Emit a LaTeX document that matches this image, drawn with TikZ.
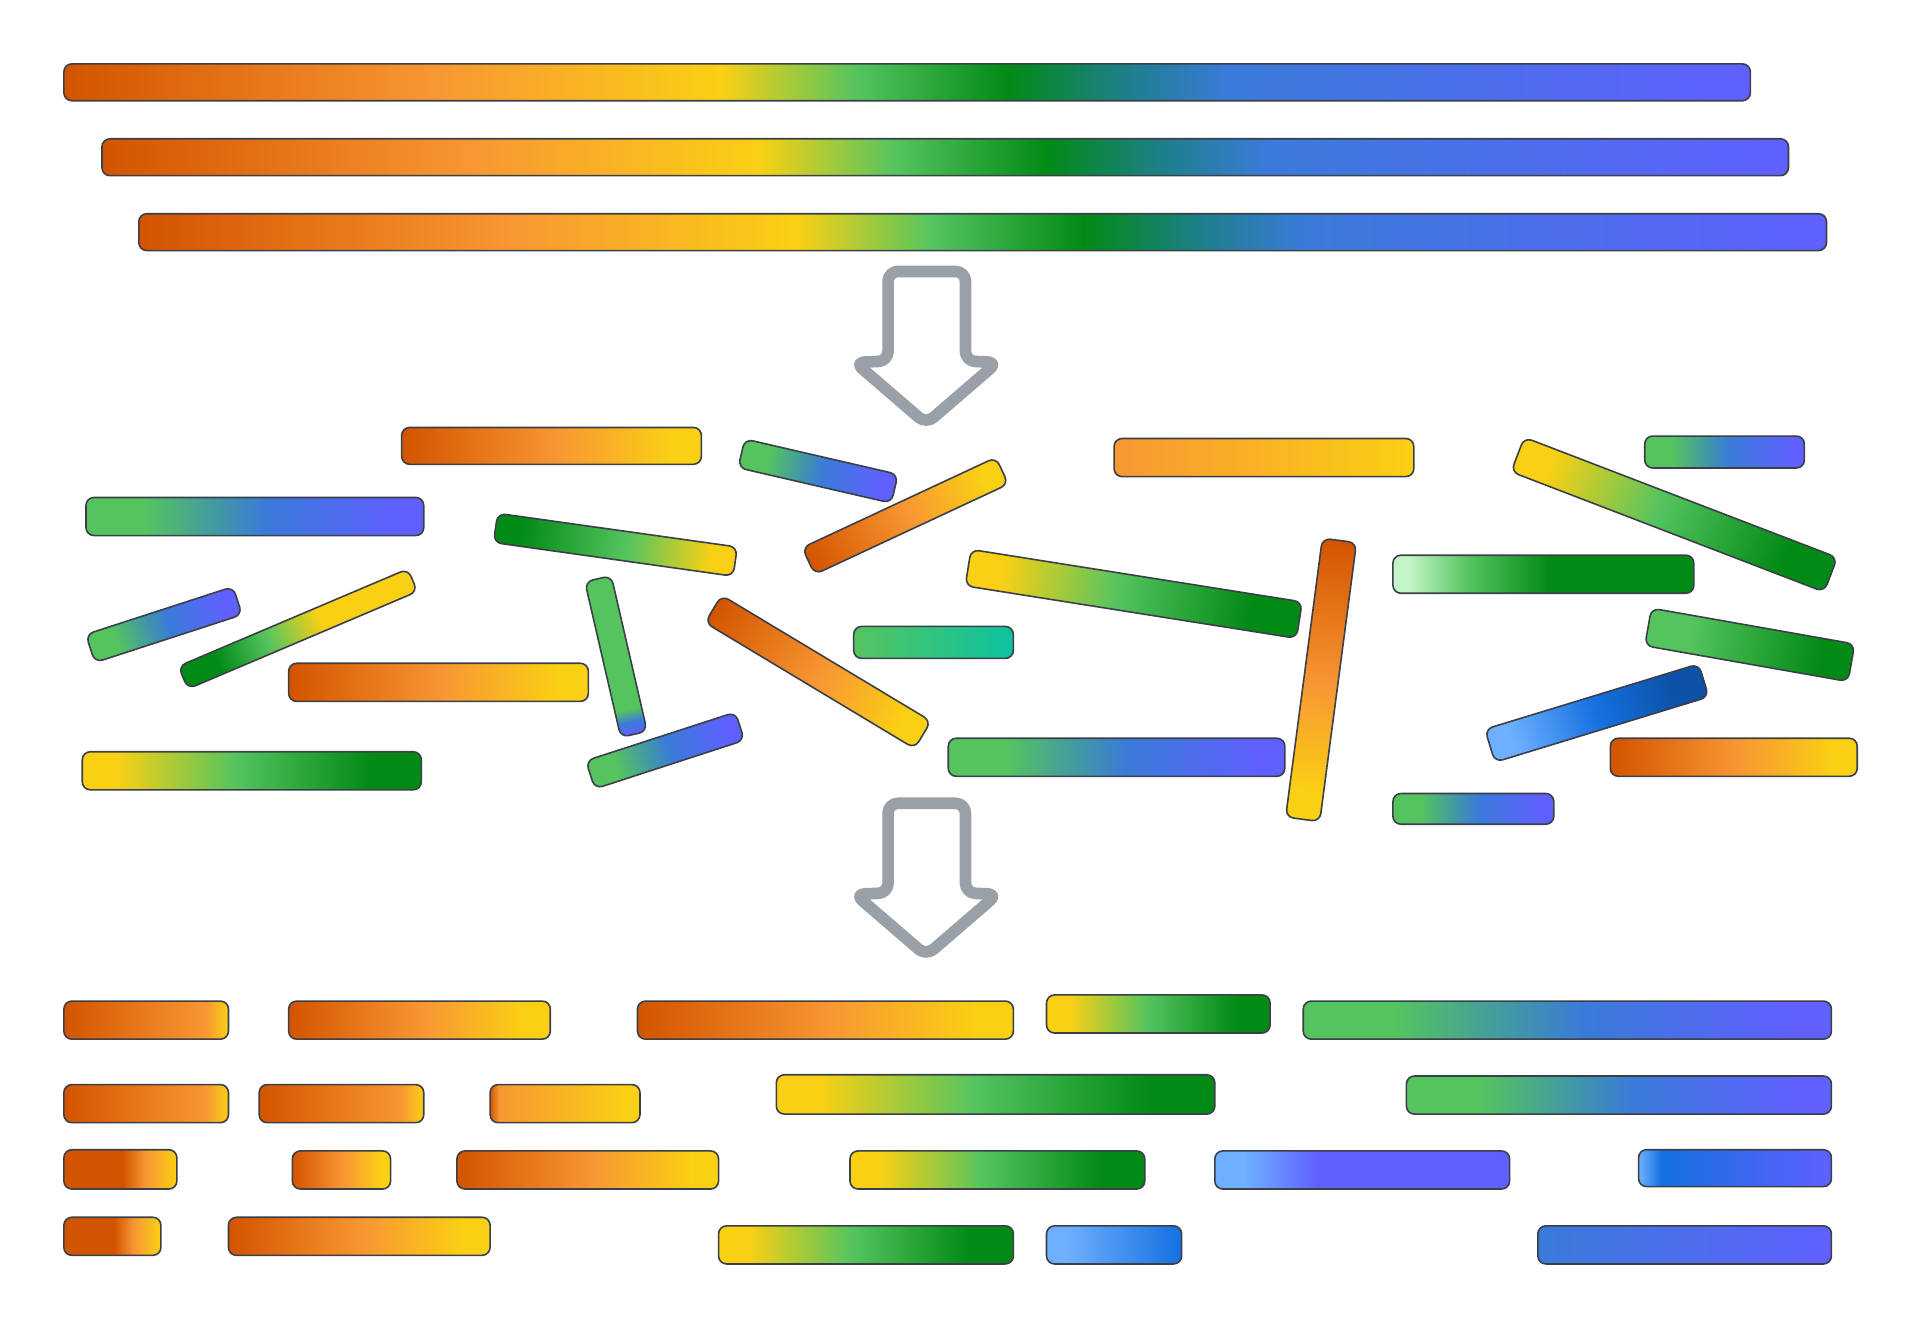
\documentclass[tikz,border=0pt]{standalone}
\usepackage{tikz}
\definecolor{dorg}{HTML}{D35400}
\definecolor{lorg}{HTML}{F89733}
\definecolor{ylw}{HTML}{FAD014}
\definecolor{lgrn}{HTML}{55C45F}
\definecolor{dgrn}{HTML}{028A16}
\definecolor{teal}{HTML}{1E7F8C}
\definecolor{tealm}{HTML}{4297A5}
\definecolor{blu}{HTML}{3A7BD9}
\definecolor{prp}{HTML}{6060FF}
\definecolor{tealg}{HTML}{0BC3A0}
\definecolor{palegrn}{HTML}{C4F5C8}
\definecolor{lblu}{HTML}{6EB0FF}
\definecolor{mblu}{HTML}{1570E0}
\definecolor{dblu}{HTML}{0D52A8}
\definecolor{edge}{HTML}{3B3F47}
\definecolor{arrowgray}{HTML}{9AA0A8}
% gradients along a strand (25bp = left end, 75bp = right end)
\pgfdeclarehorizontalshading{spectrum}{100bp}{color(0bp)=(dorg); color(25bp)=(dorg); color(36bp)=(lorg); color(44.5bp)=(ylw); color(48.5bp)=(lgrn); color(53bp)=(dgrn); color(56.5bp)=(teal); color(59.5bp)=(blu); color(75bp)=(prp); color(100bp)=(prp)}
\pgfdeclarehorizontalshading{oy}{100bp}{color(0bp)=(dorg); color(25bp)=(dorg); color(51bp)=(lorg); color(70bp)=(ylw); color(100bp)=(ylw)}
\pgfdeclarehorizontalshading{oyshort}{100bp}{color(0bp)=(dorg); color(25bp)=(dorg); color(68bp)=(lorg); color(75bp)=(ylw); color(100bp)=(ylw)}
\pgfdeclarehorizontalshading{oyhalf}{100bp}{color(0bp)=(dorg); color(51bp)=(dorg); color(61bp)=(lorg); color(75bp)=(ylw); color(100bp)=(ylw)}
\pgfdeclarehorizontalshading{oylate}{100bp}{color(0bp)=(dorg); color(25bp)=(dorg); color(28bp)=(lorg); color(70bp)=(ylw); color(100bp)=(ylw)}
\pgfdeclarehorizontalshading{ly}{100bp}{color(0bp)=(lorg); color(25bp)=(lorg); color(75bp)=(ylw); color(100bp)=(ylw)}
\pgfdeclarehorizontalshading{yg}{100bp}{color(0bp)=(ylw); color(30bp)=(ylw); color(47.5bp)=(lgrn); color(67.5bp)=(dgrn); color(100bp)=(dgrn)}
\pgfdeclarehorizontalshading{gy}{100bp}{color(0bp)=(dgrn); color(30bp)=(dgrn); color(52.5bp)=(lgrn); color(70bp)=(ylw); color(100bp)=(ylw)}
\pgfdeclarehorizontalshading{gyshort}{100bp}{color(0bp)=(dgrn); color(32.5bp)=(dgrn); color(43.5bp)=(lgrn); color(55bp)=(ylw); color(100bp)=(ylw)}
\pgfdeclarehorizontalshading{gb}{100bp}{color(0bp)=(lgrn); color(33.5bp)=(lgrn); color(44.5bp)=(tealm); color(51.5bp)=(blu); color(71bp)=(prp); color(100bp)=(prp)}
\pgfdeclarehorizontalshading{gteal}{100bp}{color(0bp)=(lgrn); color(25bp)=(lgrn); color(75bp)=(tealg); color(100bp)=(tealg)}
\pgfdeclarehorizontalshading{pgdg}{100bp}{color(0bp)=(palegrn); color(27.5bp)=(palegrn); color(37.5bp)=(lgrn); color(51bp)=(dgrn); color(100bp)=(dgrn)}
\pgfdeclarehorizontalshading{gdg}{100bp}{color(0bp)=(lgrn); color(35bp)=(lgrn); color(67.5bp)=(dgrn); color(100bp)=(dgrn)}
\pgfdeclarehorizontalshading{gbend}{100bp}{color(0bp)=(lgrn); color(67bp)=(lgrn); color(71bp)=(blu); color(75bp)=(prp); color(100bp)=(prp)}
\pgfdeclarehorizontalshading{lbdb}{100bp}{color(0bp)=(lblu); color(30bp)=(lblu); color(50bp)=(mblu); color(67.5bp)=(dblu); color(100bp)=(dblu)}
\pgfdeclarehorizontalshading{lbp}{100bp}{color(0bp)=(lblu); color(30bp)=(lblu); color(42.5bp)=(prp); color(100bp)=(prp)}
\pgfdeclarehorizontalshading{lbbp}{100bp}{color(0bp)=(lblu); color(25bp)=(lblu); color(31bp)=(mblu); color(75bp)=(prp); color(100bp)=(prp)}
\pgfdeclarehorizontalshading{lbb}{100bp}{color(0bp)=(lblu); color(32bp)=(lblu); color(75bp)=(mblu); color(100bp)=(mblu)}
\pgfdeclarehorizontalshading{bp}{100bp}{color(0bp)=(blu); color(25bp)=(blu); color(75bp)=(prp); color(100bp)=(prp)}
\tikzset{
  strand/.style={draw=edge, line width=1.3pt, rounded corners=6.5pt},
  fatarrow/.style={draw=arrowgray, line width=9.5pt, rounded corners=8pt, line join=round}
}
\begin{document}
\begin{tikzpicture}[x=1pt,y=-1pt]
  \useasboundingbox (0,0) rectangle (1568,1094);
  % full strands
  \foreach \xa/\ya/\xb/\yb in {52/52/1425/82, 83/113/1456/143, 113/174/1487/204}
    \shade[strand, shading=spectrum] (\xa,\ya) rectangle (\xb,\yb);
  % down arrows
  \foreach \dy in {0,433}
    \draw[fatarrow, shift={(0,\dy)}] (754,221) -- (786,221) -- (786,294) -- (812,295)
      -- (754,345) -- (696,295) -- (723,294) -- (723,221) -- cycle;
  % broken pieces, lying flat
  \foreach \xa/\ya/\xb/\yb/\bsh in {327/348/571/378/oy, 70/405/345/436/gb, 235/540/479/571/oy,
      67/612/343/643/yg, 695/510/825/536/gteal, 907/357/1151/388/ly, 1134/452/1379/483/pgdg,
      1339/355/1469/381/gb, 1311/601/1512/632/oy, 772/601/1046/632/gb, 1134/646/1265/671/gb}
    \shade[strand, shading=\bsh] (\xa,\ya) rectangle (\xb,\yb);
  % broken pieces, tilted
  \foreach \cx/\cy/\blen/\bthk/\bang/\bsh in {133.5/508.5/126/24/18/gb, 242.5/512/203/20/23/gyshort,
      501/443.5/197/24/-8/gy, 501.5/534.5/130/22/-77/gbend, 541.5/611/128/24/18/gb,
      666/383.5/128/24/-13/gb, 737/420/174/24/25/oy, 666/547/199/26/-31/oy,
      923/483.5/273/30/-9/yg, 1075.5/553.5/229/28/-97.5/oy, 1363/419/273/30/-21/yg,
      1424.5/525/168/31/-10/gdg, 1300/580.5/182/28/17/lbdb}
  {
    \begin{scope}[transform canvas={shift={(\cx,\cy)}, rotate=\bang}]
      \shade[strand, shading=\bsh] (-\blen/2,-\bthk/2) rectangle (\blen/2,\bthk/2);
    \end{scope}
  }
  % sorted pieces
  \foreach \xa/\ya/\xb/\yb/\bsh in {52/815/186/846/oyshort, 235/815/448/846/oy, 519/815/825/846/oy,
      852/810/1034/841/yg, 1061/815/1491/846/gb,
      52/883/186/914/oyshort, 211/883/345/914/oyshort, 399/883/521/914/oylate,
      632/875/989/907/yg, 1145/876/1491/907/gb,
      52/936/144/968/oyhalf, 238/937/318/968/oy, 372/937/585/968/oy,
      692/937/932/968/yg, 989/937/1229/968/lbp, 1334/936/1491/966/lbbp,
      52/991/131/1022/oyhalf, 186/991/399/1022/oy, 585/998/825/1029/yg,
      852/998/962/1029/lbb, 1252/998/1491/1029/bp}
    \shade[strand, shading=\bsh] (\xa,\ya) rectangle (\xb,\yb);
\end{tikzpicture}
\end{document}
